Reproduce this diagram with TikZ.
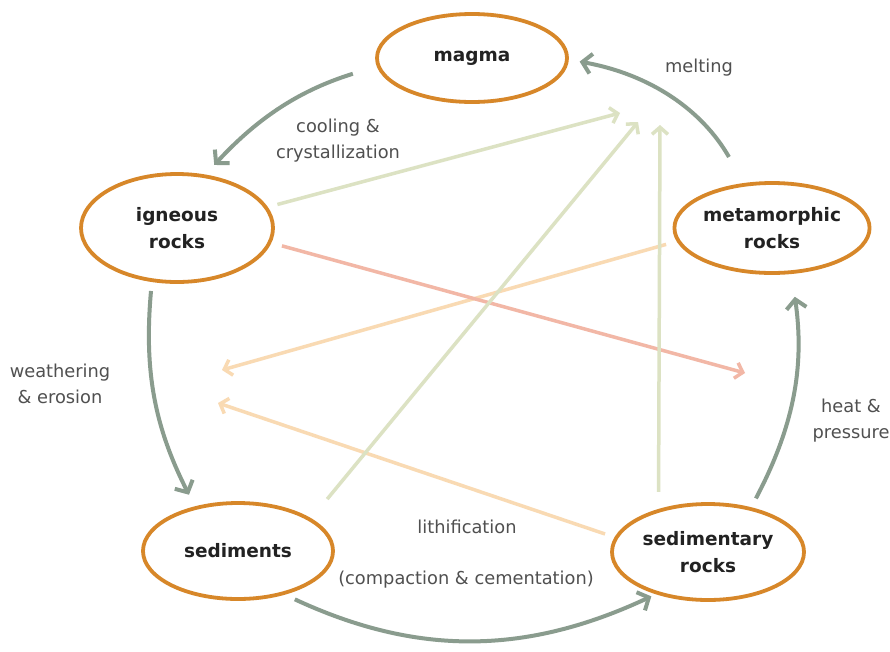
\documentclass[tikz,border=0pt]{standalone}
\usepackage{fontspec}
\setmainfont{DejaVu Sans}
\usetikzlibrary{arrows.meta,shapes.geometric}
\definecolor{rim}{HTML}{D78729}
\definecolor{cyc}{HTML}{8A9C8E}
\definecolor{lgreen}{HTML}{DCE2C3}
\definecolor{lpink}{HTML}{F2B7A6}
\definecolor{lorange}{HTML}{F9DAB3}
\definecolor{lbl}{HTML}{505050}
\definecolor{ink}{HTML}{222222}
\begin{document}
\begin{tikzpicture}[x=1pt,y=-1pt,
  rock/.style={ellipse, draw=rim, line width=3.8pt, fill=white, align=center, text=ink,
    font=\fontsize{18.5}{27}\selectfont\bfseries, inner sep=0pt},
  lab/.style={align=center, text=lbl, font=\fontsize{17.8}{26}\selectfont, inner sep=0pt},
  cyclearrow/.style={draw=cyc, line width=4pt, -{Straight Barb[length=9pt,width=20pt]}},
  faint/.style={line width=3.5pt, -{Straight Barb[length=7pt,width=16pt]}},
]
\fill[white] (0,0) rectangle (890,651);
\useasboundingbox (0,0) rectangle (890,651);

% rock nodes
\node[rock, minimum width=190pt, minimum height=88pt] (magma) at (472,58) {magma};
\node[rock, minimum width=192pt, minimum height=108pt] (igneous) at (177,228) {igneous\\rocks};
\node[rock, minimum width=190pt, minimum height=90pt] (meta) at (772,228) {metamorphic\\rocks};
\node[rock, minimum width=190pt, minimum height=96pt] (sed) at (238,551) {sediments};
\node[rock, minimum width=192pt, minimum height=96pt] (sedrock) at (708,552) {sedimentary\\rocks};

% labels
\node[lab] (lmelt) at (699,68) {melting};
\node[lab] (lcool) at (338,141) {cooling \&\\crystallization};
\node[lab] (lweath) at (60,384) {weathering\\\& erosion};
\node[lab] (lheat) at (851,421) {heat \&\\pressure};
\node[lab] (llith) at (467,527) {lithification};
\node[lab] (lcomp) at (466,580) {(compaction \& cementation)};

% free ends of faint arrows
\coordinate (t1) at (620,113);
\coordinate (t2) at (638,122);
\coordinate (t3) at (660,125);
\coordinate (p1) at (745,373);
\coordinate (o1) at (222,370);
\coordinate (o2) at (218,403);

% faint arrows
\draw[faint, draw=lorange, shorten <=11pt] (meta.188) -- (o1);
\draw[faint, draw=lorange, shorten <=10pt] (sedrock.171) -- (o2);
\draw[faint, draw=lpink, shorten <=11pt] (igneous.-9) -- (p1);
\draw[faint, draw=lgreen, shorten <=10pt] (igneous.13) -- (t1);
\draw[faint, draw=lgreen, shorten <=25pt] (sed.24) -- (t2);
\draw[faint, draw=lgreen, shorten <=17pt] (sedrock.139) -- (t3);

% rock cycle arrows
\draw[cyclearrow, shorten <=25pt, shorten >=13pt] (magma.185) to[bend right=15] (igneous.62);
\draw[cyclearrow, shorten <=9pt, shorten >=13pt] (igneous.245) to[bend right=16] (sed.134);
\draw[cyclearrow, shorten <=11pt, shorten >=5pt] (sed.-43) to[bend right=25] (sedrock.219);
\draw[cyclearrow, shorten <=10pt, shorten >=23pt] (sedrock.46) to[bend right=18] (meta.-67);
\draw[cyclearrow, shorten <=30pt, shorten >=11pt] (meta.122) to[bend right=25] (magma.-1);
\end{tikzpicture}
\end{document}
